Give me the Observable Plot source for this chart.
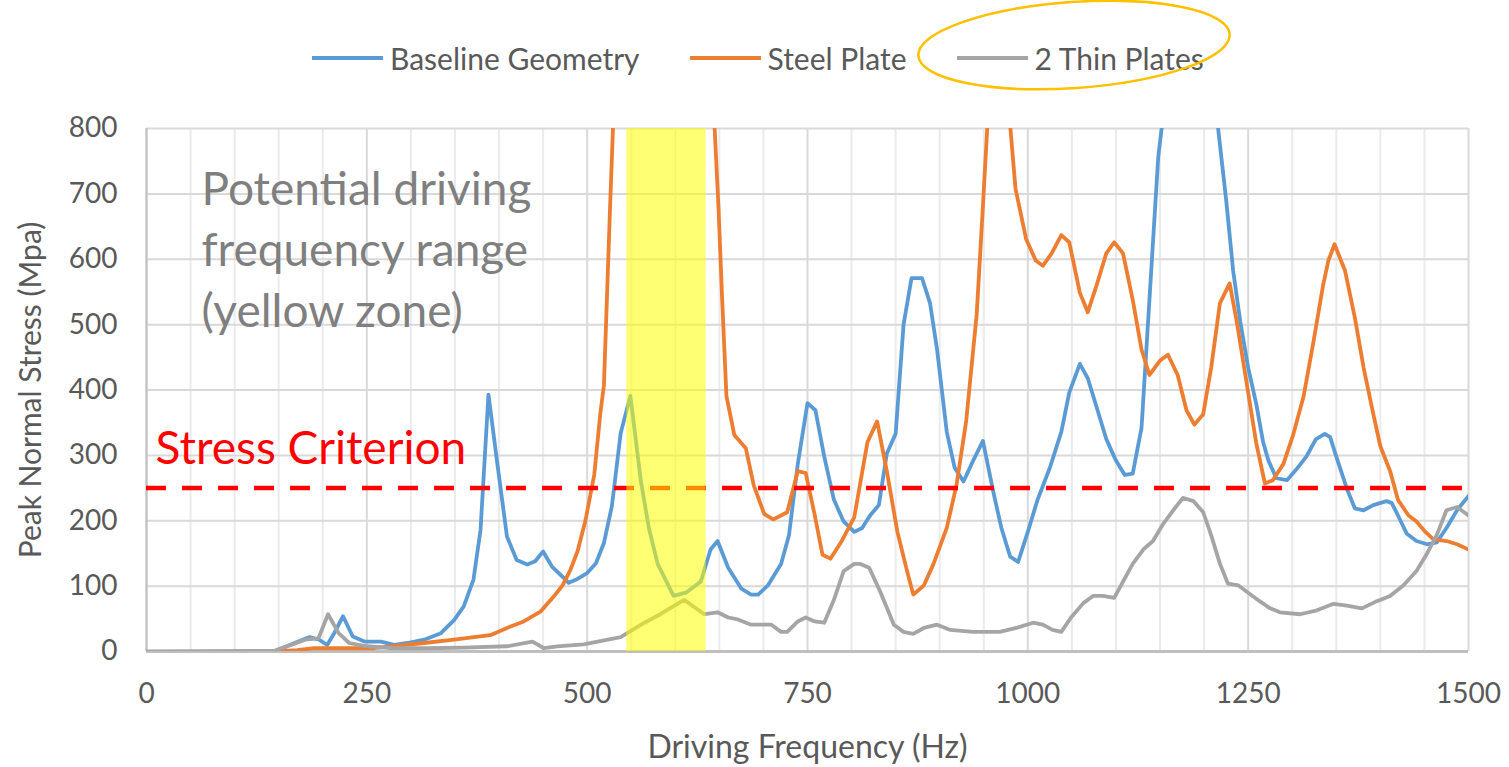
<!DOCTYPE html>
<html>
<head>
<meta charset="utf-8">
<script src="https://cdn.jsdelivr.net/npm/d3@7"></script>
<script src="https://cdn.jsdelivr.net/npm/@observablehq/plot@0.6"></script>
<style>
  html, body { margin: 0; padding: 0; background: #fff; }
  #page { position: relative; width: 1509px; height: 767px; overflow: hidden; font-family: Lato, sans-serif; }
  #legend { position: relative; width: 1509px; height: 100px; }
  #legend .items { position: absolute; left: 312px; top: 40px; display: flex; align-items: center; }
  #legend .item { display: flex; align-items: center; margin-right: 50px; }
  #legend .sw { width: 71px; height: 4px; margin-right: 7px; }
  #legend .lab { font-size: 30px; color: #595959; line-height: 36px; }
  #ellipse { position: absolute; left: 0; top: 0; }
</style>
</head>
<body>
<div id="page">
  <div id="legend"></div>
  <div id="chart"></div>
</div>
<script>
// ---- data ----
const seriesNames = ["Baseline Geometry", "Steel Plate", "2 Thin Plates"];
const seriesColors = ["#5B9BD5", "#ED7D31", "#A5A5A5"];

// [frequency Hz, peak normal stress MPa]
const baseline = [[145,0],[168,13],[185,22],[196,18],[205,10],[213,28],[223,54],[234,23],[248,15],[266,15],[281,10],[296,13],[315,18],[334,28],[349,48],[360,69],[371,110],[379,186],[388,393],[398,288],[409,176],[420,140],[432,133],[441,138],[450,153],[460,130],[474,112],[479,105],[489,111],[500,120],[510,135],[519,166],[528,222],[538,334],[549,391],[561,260],[570,189],[580,134],[598,85],[612,90],[629,107],[640,156],[648,169],[660,128],[675,96],[686,87],[694,87],[705,101],[720,134],[729,178],[739,287],[750,380],[759,369],[769,298],[780,232],[791,199],[803,183],[812,189],[821,208],[831,224],[840,303],[850,333],[859,500],[868,571],[880,571],[889,533],[897,462],[908,336],[917,281],[927,260],[938,292],[949,322],[961,243],[970,189],[980,145],[989,137],[1000,183],[1011,232],[1025,281],[1038,336],[1047,396],[1059,440],[1068,418],[1078,374],[1089,325],[1100,292],[1110,270],[1119,272],[1129,342],[1134,451],[1142,626],[1148,757],[1185,1170],[1225,691],[1233,582],[1241,505],[1250,434],[1259,380],[1267,320],[1273,292],[1282,265],[1294,262],[1305,279],[1316,298],[1327,325],[1337,333],[1343,328],[1350,298],[1362,249],[1371,219],[1381,216],[1392,224],[1407,230],[1413,227],[1420,208],[1430,180],[1441,169],[1453,164],[1464,167],[1475,189],[1487,216],[1500,238]];

const steelPlate = [[145,0],[171,2],[190,5],[220,5],[258,5],[277,8],[315,13],[349,18],[390,25],[409,36],[428,46],[447,61],[462,84],[472,101],[481,125],[489,153],[498,200],[508,270],[515,365],[519,407],[526,680],[532,900],[590,3000],[641,900],[649,680],[653,544],[658,391],[667,331],[680,311],[689,254],[701,210],[711,202],[727,213],[739,276],[748,273],[758,210],[767,148],[776,142],[788,167],[803,205],[818,320],[829,352],[840,276],[852,183],[863,123],[870,87],[882,101],[893,134],[908,189],[919,254],[930,352],[942,516],[949,680],[958,900],[966,1000],[974,900],[986,708],[998,631],[1009,598],[1017,590],[1027,609],[1038,637],[1047,626],[1059,549],[1068,519],[1078,560],[1089,609],[1098,626],[1108,609],[1119,538],[1129,462],[1138,423],[1150,445],[1159,454],[1170,423],[1180,369],[1189,347],[1199,363],[1208,434],[1218,533],[1229,563],[1237,505],[1248,413],[1259,320],[1269,257],[1278,262],[1290,287],[1301,331],[1313,391],[1324,473],[1335,560],[1341,598],[1348,623],[1360,582],[1371,511],[1381,434],[1392,363],[1400,314],[1411,276],[1420,232],[1432,208],[1441,199],[1451,183],[1460,172],[1475,169],[1487,164],[1500,156]];

const thinPlates = [[0,0],[145,1],[168,12],[180,18],[195,20],[206,57],[218,28],[230,13],[250,8],[281,5],[320,5],[360,6],[409,8],[438,15],[451,5],[466,8],[496,11],[538,22],[565,44],[583,57],[610,79],[633,57],[648,60],[660,52],[671,49],[686,41],[709,41],[720,30],[727,30],[739,46],[748,52],[758,46],[769,44],[780,79],[791,123],[803,134],[810,134],[820,128],[833,90],[848,41],[859,30],[870,27],[882,36],[897,41],[912,33],[938,30],[968,30],[987,36],[1006,44],[1017,41],[1028,33],[1038,30],[1049,52],[1063,74],[1074,85],[1085,85],[1098,82],[1108,107],[1119,134],[1131,156],[1142,169],[1153,194],[1165,216],[1176,235],[1188,230],[1199,213],[1208,178],[1218,134],[1227,104],[1239,101],[1250,90],[1263,77],[1275,66],[1286,60],[1309,57],[1328,63],[1347,73],[1362,70],[1379,66],[1396,77],[1411,85],[1426,101],[1441,123],[1453,150],[1464,178],[1475,216],[1487,221],[1500,208]];

const xTicks = [0, 250, 500, 750, 1000, 1250, 1500];
const xMinorGrid = [50,100,150,200,300,350,400,450,550,600,650,700,800,850,900,950,1050,1100,1150,1200,1300,1350,1400,1450];
const yTicks = [0, 100, 200, 300, 400, 500, 600, 700, 800];
const criterion = 250;
const criterionLabel = "Stress Criterion";
const zone = [545, 635];
const zoneNote = "Potential driving\nfrequency range\n(yellow zone)";
const xLabel = "Driving Frequency (Hz)";
const yLabel = "Peak Normal Stress (Mpa)";

// ---- legend ----
const legend = document.getElementById("legend");
const items = document.createElement("div");
items.className = "items";
seriesNames.forEach((n, i) => {
  const it = document.createElement("div");
  it.className = "item";
  const sw = document.createElement("div");
  sw.className = "sw";
  sw.style.background = seriesColors[i];
  const lab = document.createElement("span");
  lab.className = "lab";
  lab.textContent = n;
  it.appendChild(sw); it.appendChild(lab);
  items.appendChild(it);
});
legend.appendChild(items);
legend.insertAdjacentHTML("beforeend",
  '<svg id="ellipse" width="1509" height="100"><ellipse cx="1074" cy="45" rx="156" ry="43" transform="rotate(-4 1074 45)" fill="none" stroke="#FFC000" stroke-width="2.5"/></svg>');

// ---- chart ----
const toRows = (arr, name) => arr.map(([f, v]) => ({f, v, name}));
const rows = [
  ...toRows(baseline, seriesNames[0]),
  ...toRows(steelPlate, seriesNames[1]),
  ...toRows(thinPlates, seriesNames[2])
];

const chart = Plot.plot({
  width: 1509,
  height: 667,
  marginLeft: 146,
  marginRight: 41,
  marginTop: 28,
  marginBottom: 116,
  style: {fontFamily: "Lato, sans-serif", fontSize: "28px", color: "#595959", background: "#fff"},
  x: {domain: [0, 1500]},
  y: {domain: [0, 800]},
  color: {domain: seriesNames, range: seriesColors},
  marks: [
    Plot.ruleX(xMinorGrid, {stroke: "#EBEBEB", strokeWidth: 2}),
    Plot.ruleX(xTicks, {stroke: "#D9D9D9", strokeWidth: 2}),
    Plot.ruleY(yTicks, {stroke: "#D9D9D9", strokeWidth: 2}),
    Plot.ruleX([0], {stroke: "#BFBFBF", strokeWidth: 2}),
    Plot.ruleY([0], {stroke: "#BFBFBF", strokeWidth: 3}),
    Plot.axisX({ticks: xTicks, tickSize: 0, tickPadding: 32, tickFormat: d => String(d), label: null, fontSize: 28}),
    Plot.axisX({ticks: [], label: xLabel, labelAnchor: "center", labelArrow: "none", labelOffset: 106, fontSize: 32}),
    Plot.axisY({ticks: yTicks, tickSize: 0, tickPadding: 29, tickFormat: d => String(d), label: null, fontSize: 28}),
    Plot.axisY({ticks: [], label: yLabel, labelAnchor: "center", labelArrow: "none", labelOffset: 127, fontSize: 30}),
    Plot.text([zoneNote], {x: 0, y: 800, text: d => d, textAnchor: "start", lineAnchor: "top",
      dx: 55, dy: 33, fontSize: 46, lineHeight: 1.326, fill: "#7F7F7F"}),
    Plot.text([criterionLabel], {x: 0, y: criterion, text: d => d, textAnchor: "start", lineAnchor: "bottom",
      dx: 9, dy: -24, fontSize: 46, fill: "#FF0000"}),
    Plot.line(rows, {x: "f", y: "v", z: "name", stroke: "name", strokeWidth: 3.8, clip: true, curve: "linear"}),
    Plot.ruleY([criterion], {stroke: "#FF0000", strokeWidth: 4.5, strokeDasharray: "20,16"}),
    Plot.rect([zone], {x1: d => d[0], x2: d => d[1], y1: 0, y2: 800, fill: "#FFFF00", fillOpacity: 0.55})
  ]
});
document.getElementById("chart").appendChild(chart);
</script>
</body>
</html>
